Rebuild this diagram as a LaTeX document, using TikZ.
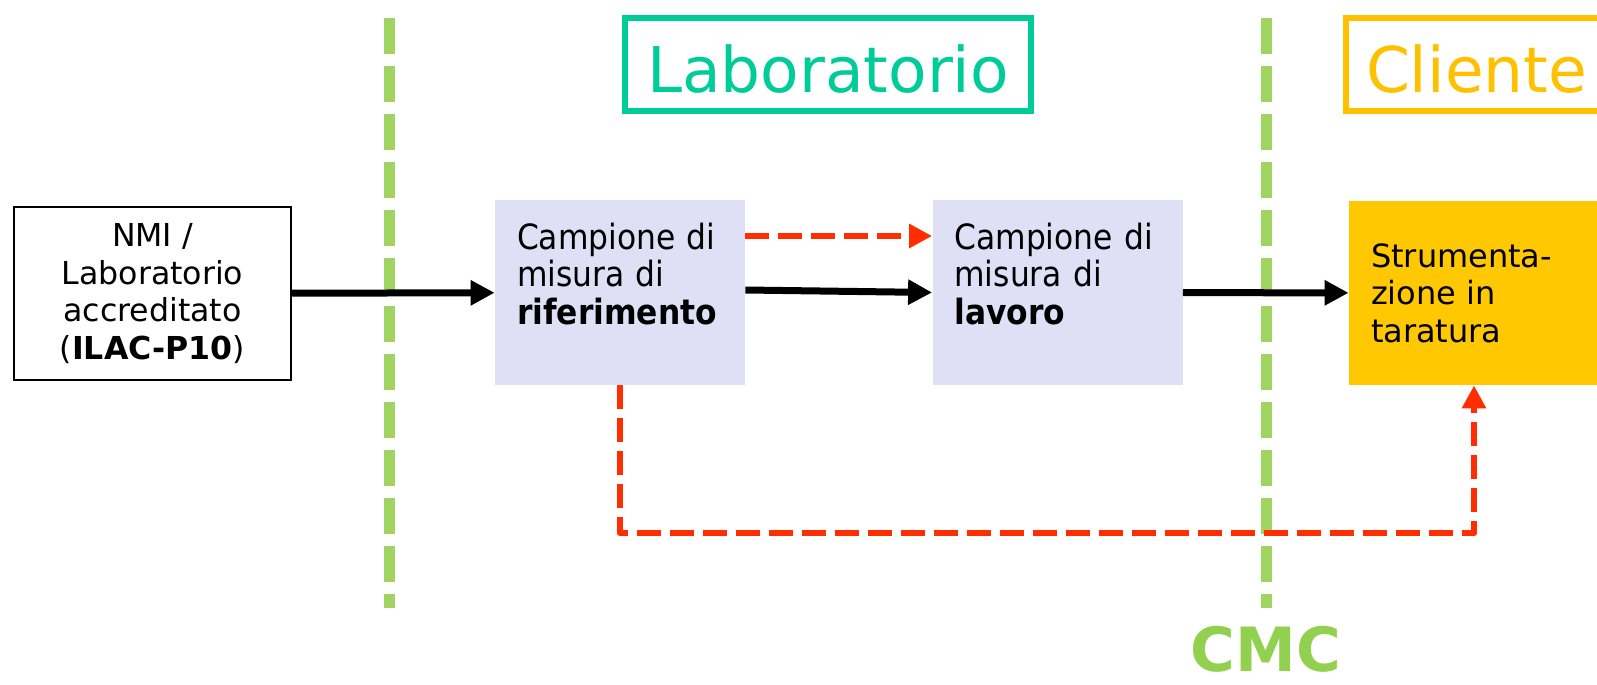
\documentclass[tikz,border=0pt]{standalone}
\usepackage{fontspec}
\setmainfont{DejaVu Sans}
\newfontfamily\condfont{DejaVu Sans Condensed}
\usetikzlibrary{arrows.meta,calc}
\definecolor{labteal}{RGB}{0,204,153}
\definecolor{clientyellow}{RGB}{255,192,0}
\definecolor{strumyellow}{RGB}{255,200,0}
\definecolor{lavender}{RGB}{223,223,245}
\definecolor{tracered}{RGB}{255,45,0}
\definecolor{cmcline}{RGB}{160,212,96}
\definecolor{cmcgreen}{RGB}{146,208,80}
\begin{document}
\begin{tikzpicture}[x=0.5pt,y=-0.5pt,
  sepline/.style={draw=cmcline,line width=5.5pt,dash pattern=on 18pt off 6pt},
  title/.style={draw,line width=3pt,inner sep=0pt,minimum height=46.5pt,text height=28pt,text depth=0pt,font=\fontsize{31.5pt}{36pt}\selectfont},
  campione/.style={fill=lavender,inner xsep=11pt,inner ysep=0pt,text width=103pt,minimum height=92.5pt,align=left,font=\condfont\fontsize{17.4pt}{18.75pt}\selectfont},
  flow/.style={line width=3.5pt,-{Triangle[length=12pt,width=12pt]}},
  trace/.style={draw=tracered,line width=3.4pt,line join=round,dash pattern=on 12pt off 4.5pt,-{Triangle[length=11.5pt,width=11.5pt]}}]
\useasboundingbox (0,0) rectangle (1597,685);
\draw[sepline] (389,18) -- (389,608);
\draw[sepline] (1266,18) -- (1266,608);
\node[title,draw=labteal,text=labteal,minimum width=203pt] (lab) at (828,64.5) {Laboratorio};
\node[title,draw=clientyellow,text=clientyellow,anchor=west,inner xsep=10pt,text width=150pt,align=left] (cli) at (1343,64.5) {Cliente};
\node[draw,line width=1pt,minimum width=138.5pt,minimum height=86.5pt,inner sep=0pt,align=center,font=\fontsize{15.8pt}{18.75pt}\selectfont] (nmi) at (152.5,293.5) {NMI /\\Laboratorio\\accreditato\\(\textbf{ILAC-P10})};
\node[campione] (rif) at (620,292.5) {Campione di\\misura di\\\textbf{riferimento}\\\mbox{}};
\node[campione] (lav) at (1057.5,292.5) {Campione di\\misura di\\\textbf{lavoro}\\\mbox{}};
\node[fill=strumyellow,inner xsep=11pt,inner ysep=0pt,text width=103pt,minimum height=92pt,align=left,font=\fontsize{16pt}{18.75pt}\selectfont] (strum) at (1474,293) {Strumenta-\\zione in\\taratura};
\node[text=cmcgreen,inner sep=0pt,font=\bfseries\fontsize{30.5pt}{36pt}\selectfont] (cmc) at (1266,649) {CMC};
\draw[flow] (nmi) -- (rif);
\draw[flow] ($(rif.east)+(0,-2.5)$) -- (lav.west);
\draw[flow] (lav) -- (strum);
\draw[trace] ($(rif.east)+(0,-56.5)$) -- ($(lav.west)+(0,-56.5)$);
\coordinate (low) at (620,533);
\draw[trace] (rif.south) -- (low) -| (strum.south);
\end{tikzpicture}
\end{document}
